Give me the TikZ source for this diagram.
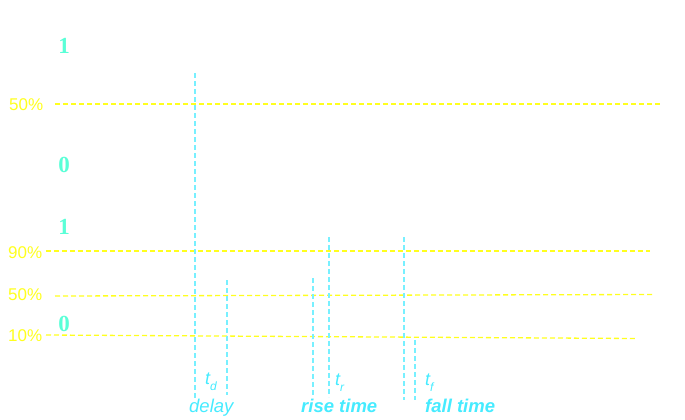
\documentclass[tikz,border=0pt]{standalone}
\usepackage{fontspec}
\setmainfont{Liberation Serif}
\setsansfont{Liberation Sans}
\definecolor{lvl}{RGB}{255,255,30}
\definecolor{digit}{RGB}{90,255,215}
\definecolor{vline}{RGB}{120,240,255}
\definecolor{lab}{RGB}{70,235,255}
\tikzset{
  levelline/.style={draw=lvl, line width=1.3pt, dash pattern=on 5pt off 3pt},
  markline/.style={draw=vline, line width=1.2pt, dash pattern=on 5pt off 3pt},
  pct/.style={text=lvl, font=\sffamily\fontsize{17}{17}\selectfont, inner sep=0pt},
  bit/.style={text=digit, font=\rmfamily\bfseries\fontsize{23}{23}\selectfont, inner sep=0pt},
  tlab/.style={text=lab, font=\sffamily\itshape\fontsize{18}{18}\selectfont, inner sep=0pt},
  tname/.style={text=lab, font=\sffamily\itshape\fontsize{18.5}{18.5}\selectfont, inner sep=0pt},
  tnameb/.style={text=lab, font=\sffamily\bfseries\itshape\fontsize{18.5}{18.5}\selectfont, inner sep=0pt},
}
\begin{document}
\begin{tikzpicture}[x=1pt,y=-1pt]
\useasboundingbox (0,0) rectangle (685,420);
% bit labels
\node[bit] (b1a) at (64,46) {1};
\node[bit] (b0a) at (64,165) {0};
\node[bit] (b1b) at (64,227) {1};
\node[bit] (b0b) at (64,324) {0};
% percentage labels
\node[pct, anchor=west] (p50a) at (9,105) {50\%};
\node[pct, anchor=west] (p90) at (8,253) {90\%};
\node[pct, anchor=west] (p50b) at (8,295) {50\%};
\node[pct, anchor=west] (p10) at (8,336) {10\%};
% level line endpoints
\coordinate (l50a-s) at (55,104);  \coordinate (l50a-e) at (660,104);
\coordinate (l90-s) at (46,251);   \coordinate (l90-e) at (650,251);
\coordinate (l50b-s) at (55,296);  \coordinate (l50b-e) at (653,294.5);
\coordinate (l10-s) at (46,335);   \coordinate (l10-e) at (636,338.5);
\draw[levelline] (l50a-s) -- (l50a-e);
\draw[levelline] (l90-s) -- (l90-e);
\draw[levelline] (l50b-s) -- (l50b-e);
\draw[levelline] (l10-s) -- (l10-e);
% vertical markers
\coordinate (v1t) at (195,73);  \coordinate (v1b) at (195,400);
\coordinate (v2t) at (227,280); \coordinate (v2b) at (227,395);
\coordinate (v3t) at (313,278); \coordinate (v3b) at (313,397);
\coordinate (v4t) at (329,237); \coordinate (v4b) at (329,397);
\coordinate (v5t) at (404,237); \coordinate (v5b) at (404,400);
\coordinate (v6t) at (415,340); \coordinate (v6b) at (415,400);
\draw[markline] (v1t) -- (v1b);
\draw[markline] (v2t) -- (v2b);
\draw[markline] (v3t) -- (v3b);
\draw[markline] (v4t) -- (v4b);
\draw[markline] (v5t) -- (v5b);
\draw[markline] (v6t) -- (v6b);
% time labels
\node[tlab, anchor=west] (td) at (205,382) {t\raisebox{-0.35em}{\fontsize{12}{12}\selectfont d}};
\node[tlab, anchor=west] (tr) at (335,383) {t\raisebox{-0.35em}{\fontsize{12}{12}\selectfont r}};
\node[tlab, anchor=west] (tf) at (425,383) {t\raisebox{-0.35em}{\fontsize{12}{12}\selectfont f}};
\node[tname, anchor=west] (delay) at (189,408) {delay};
\node[tnameb, anchor=west] (rise) at (301,406) {rise time};
\node[tnameb, anchor=west] (fall) at (425,406) {fall time};
\end{tikzpicture}
\end{document}
